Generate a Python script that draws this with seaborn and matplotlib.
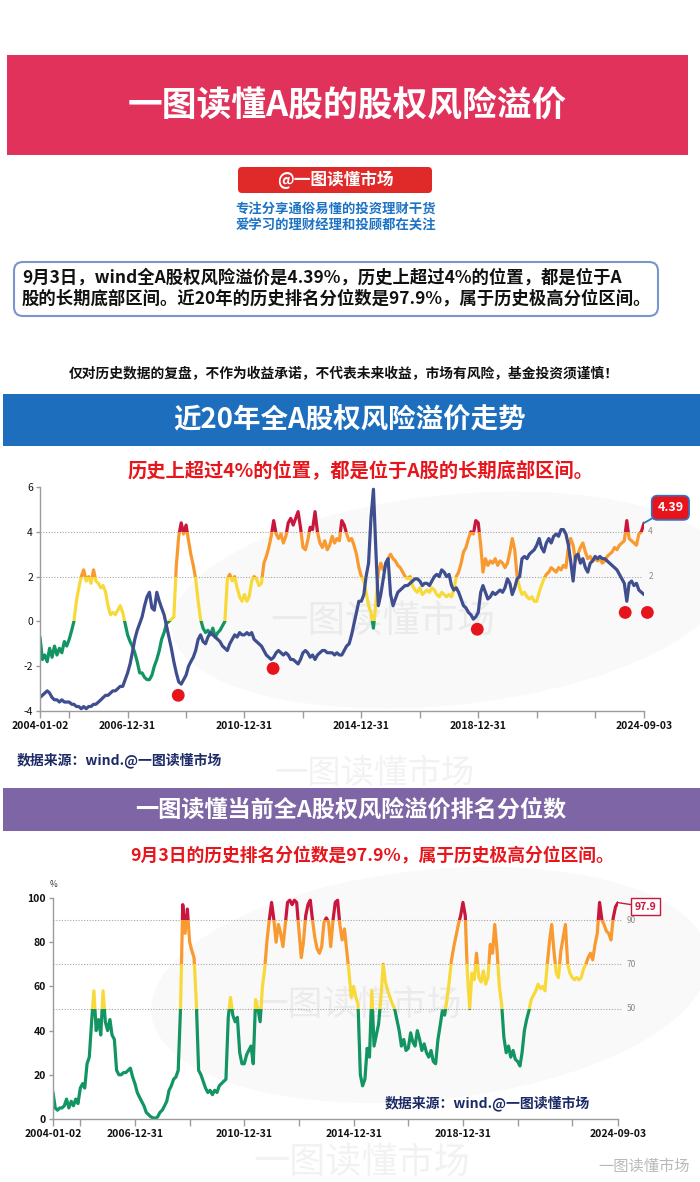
import pandas as pd
import seaborn as sns
import matplotlib.pyplot as plt
import matplotlib.dates as mdates
from matplotlib.patches import Rectangle, FancyBboxPatch, Ellipse
from matplotlib.transforms import blended_transform_factory

sns.set_theme(style='white')
plt.rcParams['font.family'] = ['Noto Sans CJK SC', 'DejaVu Sans']
plt.rcParams['axes.unicode_minus'] = False

# ---------------- data (monthly readings, 2004-01-02 .. 2024-09-03) ----------------
dates = ([pd.Timestamp('2004-01-02')]
         + list(pd.date_range('2004-02-01', '2024-08-01', freq='MS'))
         + [pd.Timestamp('2024-09-03')])

erp = [
    -0.7, -1.7, -1.5, -1.8, -1.2, -1.6, -1.1, -1.5, -1.2, -1.4, -0.9, -1.1,   # 2004
    -0.8, -0.4, 0.0, 0.9, 1.5, 2.0, 2.3, 1.8, 2.0, 1.7, 2.3, 1.8,             # 2005
    1.7, 1.5, 1.6, 1.3, 0.7, 0.3, 0.4, 0.3, 0.5, 0.7, 0.4, -0.1,              # 2006
    -0.6, -0.9, -1.1, -1.4, -1.8, -2.3, -2.3, -2.5, -2.6, -2.6, -2.4, -2.0,   # 2007
    -1.7, -1.3, -0.8, -0.5, -0.1, 0.0, 0.1, 0.2, 2.5, 3.8, 4.4, 3.9,          # 2008
    4.3, 3.6, 3.0, 2.5, 1.9, 0.9, 0.1, -0.3, -0.5, -0.4, -0.6, -0.3,          # 2009
    -0.7, -0.5, -0.4, -0.2, 0.0, 1.9, 2.1, 1.8, 2.0, 1.5, 1.1, 0.9,           # 2010
    1.2, 0.9, 1.1, 1.8, 2.0, 1.9, 1.6, 1.7, 2.6, 2.9, 3.3, 3.8,               # 2011
    4.5, 3.9, 3.7, 3.9, 3.5, 3.8, 4.4, 4.6, 4.3, 4.6, 4.9, 4.2,               # 2012
    3.3, 3.2, 3.6, 4.2, 4.1, 4.9, 4.0, 3.5, 3.3, 3.6, 3.2, 3.4,               # 2013
    3.8, 3.5, 3.7, 3.6, 4.5, 4.3, 3.9, 3.6, 3.7, 3.4, 3.0, 2.4,               # 2014
    2.0, 1.8, 1.3, 0.7, 0.4, -0.3, 0.8, 2.2, 2.6, 2.3, 2.5, 2.8,              # 2015
    3.0, 2.8, 2.7, 2.5, 2.4, 2.2, 2.0, 1.9, 2.0, 1.6, 1.4, 1.3,               # 2016
    1.5, 1.2, 1.3, 1.4, 1.3, 1.5, 1.4, 1.2, 1.1, 1.3, 1.2, 1.1,               # 2017
    1.2, 1.1, 1.4, 2.0, 2.2, 2.6, 3.1, 3.3, 3.7, 4.0, 3.9, 4.5,               # 2018
    4.4, 3.4, 2.2, 2.8, 2.5, 2.7, 2.6, 2.8, 2.5, 2.7, 2.6, 2.4,               # 2019
    2.6, 3.1, 3.7, 3.2, 2.0, 1.5, 1.2, 1.3, 1.1, 1.0, 1.1, 0.9,               # 2020
    0.9, 1.3, 1.6, 1.9, 2.1, 2.2, 2.4, 2.3, 2.2, 2.4, 2.3, 2.5,               # 2021
    2.4, 3.3, 3.7, 3.4, 2.7, 3.0, 3.3, 3.5, 3.1, 2.8, 2.9, 2.7,               # 2022
    2.8, 2.7, 2.8, 2.6, 2.7, 2.9, 3.0, 3.1, 3.3, 3.2, 3.4, 3.5,               # 2023
    3.6, 4.5, 3.7, 3.6, 3.5, 3.4, 3.9, 4.0, 4.39,                             # 2024
]

index_line = [
    -3.4, -3.3, -3.2, -3.1, -3.2, -3.4, -3.5, -3.5, -3.6, -3.5, -3.6, -3.6,   # 2004
    -3.6, -3.7, -3.7, -3.8, -3.8, -3.9, -3.8, -3.9, -3.8, -3.8, -3.7, -3.7,   # 2005
    -3.6, -3.5, -3.4, -3.3, -3.3, -3.2, -3.1, -3.1, -3.0, -2.9, -2.9, -2.6,   # 2006
    -2.3, -1.9, -1.4, -0.8, -0.4, -0.1, 0.2, 0.7, 1.1, 1.3, 0.6, 0.5,         # 2007
    1.3, 0.9, 0.6, 0.3, -0.2, -0.7, -1.2, -1.8, -2.3, -2.7, -2.8, -2.6,       # 2008
    -2.4, -2.0, -1.8, -1.6, -1.3, -0.8, -0.6, -0.9, -1.0, -0.7, -0.5, -0.6,   # 2009
    -0.7, -0.8, -0.9, -1.1, -1.2, -1.3, -1.0, -0.8, -0.6, -0.7, -0.5, -0.6,   # 2010
    -0.6, -0.5, -0.6, -0.5, -0.8, -0.9, -1.0, -1.1, -1.3, -1.5, -1.6, -1.7,   # 2011
    -1.6, -1.4, -1.3, -1.4, -1.5, -1.4, -1.5, -1.7, -1.7, -1.8, -1.9, -1.7,   # 2012
    -1.4, -1.3, -1.4, -1.6, -1.5, -1.7, -1.5, -1.4, -1.3, -1.3, -1.4, -1.4,   # 2013
    -1.4, -1.5, -1.4, -1.5, -1.5, -1.3, -1.1, -1.0, -0.6, -0.1, 0.4, 0.9,     # 2014
    0.9, 1.2, 2.0, 2.6, 4.6, 5.9, 3.2, 0.7, 1.2, 1.9, 2.6, 2.8,               # 2015
    1.2, 0.7, 1.0, 1.3, 1.4, 1.5, 1.6, 1.6, 1.7, 1.8, 1.9, 1.9,               # 2016
    1.8, 1.6, 1.7, 1.7, 1.6, 1.8, 2.0, 2.1, 2.0, 2.3, 2.2, 2.0,               # 2017
    2.1, 1.6, 1.4, 1.5, 1.3, 1.0, 0.7, 0.6, 0.4, 0.3, 0.1, 0.2,               # 2018
    0.4, 1.3, 1.6, 1.3, 1.0, 1.1, 1.3, 1.2, 1.3, 1.4, 1.3, 1.5,               # 2019
    1.9, 1.7, 1.2, 1.5, 1.9, 2.0, 2.8, 2.9, 2.8, 3.0, 3.1, 3.2,               # 2020
    3.4, 3.7, 3.3, 3.1, 3.5, 3.7, 3.5, 3.8, 3.9, 3.8, 4.1, 4.1,               # 2021
    3.9, 3.4, 2.7, 1.8, 2.9, 3.0, 2.6, 2.8, 2.4, 2.2, 2.6, 2.7,               # 2022
    2.9, 2.8, 2.9, 2.8, 2.8, 2.7, 2.6, 2.5, 2.4, 2.3, 2.1, 1.9,               # 2023
    1.7, 0.9, 1.7, 1.8, 1.6, 1.7, 1.4, 1.3, 1.2,                              # 2024
]

pct = [
    12, 5, 4, 5, 5, 6, 9, 5, 8, 6, 9, 7,                # 2004
    14, 16, 14, 25, 28, 44, 58, 40, 45, 38, 58, 44,     # 2005
    40, 45, 38, 36, 22, 20, 20, 21, 21, 22, 23, 19,     # 2006
    16, 12, 10, 8, 6, 3, 2, 1, 0.5, 0.3, 1, 3,          # 2007
    4, 6, 8, 13, 15, 18, 19, 22, 50, 97, 84, 95,        # 2008
    80, 76, 73, 52, 22, 20, 17, 14, 12, 13, 11, 13,     # 2009
    12, 15, 16, 17, 18, 46, 55, 47, 44, 46, 30, 25,     # 2010
    25, 29, 31, 33, 25, 54, 50, 44, 60, 68, 81, 90,     # 2011
    98, 90, 80, 88, 84, 78, 88, 98, 99, 97, 99, 98,     # 2012
    85, 73, 80, 92, 97, 99, 90, 82, 77, 75, 78, 89,     # 2013
    91, 89, 78, 90, 98, 99, 88, 81, 86, 76, 66, 55,     # 2014
    60, 55, 52, 20, 15, 18, 32, 28, 58, 33, 38, 43,     # 2015
    55, 70, 62, 58, 55, 52, 50, 45, 40, 33, 36, 31,     # 2016
    32, 39, 35, 33, 40, 36, 31, 34, 30, 28, 31, 26,     # 2017
    25, 36, 42, 49, 47, 54, 62, 72, 78, 83, 88, 92,     # 2018
    98, 92, 66, 50, 66, 63, 75, 64, 62, 67, 61, 64,     # 2019
    79, 75, 88, 76, 60, 52, 37, 30, 33, 28, 31, 27,     # 2020
    26, 24, 30, 40, 45, 49, 54, 56, 58, 61, 59, 60,     # 2021
    58, 70, 80, 88, 76, 66, 64, 76, 82, 88, 70, 66,     # 2022
    64, 63, 64, 63, 64, 68, 70, 73, 75, 72, 79, 84,     # 2023
    98, 90, 88, 85, 84, 81, 91, 96, 97.9,               # 2024
]

bottom_dates = ['2008-09-25', '2011-12-25', '2018-12-20', '2024-01-12', '2024-10-15']
bottom_vals = [-3.3, -2.1, -0.35, 0.4, 0.4]

tick_dates = ['2004-01-02', '2004-12-31', '2006-12-31', '2008-12-31', '2010-12-31',
              '2012-12-31', '2014-12-31', '2016-12-31', '2018-12-31', '2020-12-31',
              '2022-12-31', '2024-09-03']
tick_labels = ['2004-01-02', '', '2006-12-31', '', '2010-12-31', '', '2014-12-31',
               '', '2018-12-31', '', '', '2024-09-03']

GREEN, YELLOW, ORANGE, CRIMSON = '#129463', '#f8d93a', '#f89a30', '#c9163c'
NAVY = '#3e4e8e'
GRID = '#a5a5a5'
SPINE = '#9c9c9c'

df = pd.DataFrame({'date': dates, 'erp': erp, 'index': index_line, 'pct': pct})


def banded_line(ax, col, bands, lw=2.3):
    blend = blended_transform_factory(ax.transAxes, ax.transData)
    for lo, hi, c in bands:
        sns.lineplot(data=df, x='date', y=col, ax=ax, color=c, linewidth=lw, sort=False)
        ln = ax.lines[-1]
        ln.set_clip_path(Rectangle((0, lo), 1, hi - lo, transform=blend))


def style_axes(ax, ylim, yticks):
    ax.patch.set_alpha(0)
    ax.set_xlim(mdates.date2num(dates[0]), mdates.date2num(dates[-1]))
    ax.set_ylim(*ylim)
    ax.set_xticks(mdates.date2num(pd.to_datetime(tick_dates)))
    ax.set_xticklabels(tick_labels)
    ax.set_yticks(yticks)
    ax.set_yticklabels([str(v) for v in yticks])
    for s in ['top', 'right']:
        ax.spines[s].set_visible(False)
    for s in ['left', 'bottom']:
        ax.spines[s].set_color(SPINE)
        ax.spines[s].set_linewidth(1)
    ax.tick_params(axis='x', bottom=True, direction='out', length=5, width=1,
                   color=SPINE, pad=2, labelsize=7.5, labelcolor='#111111')
    ax.tick_params(axis='y', left=True, direction='out', length=3, width=1,
                   color=SPINE, pad=2, labelsize=7.5, labelcolor='#111111')
    for lbl in ax.get_xticklabels():
        lbl.set_fontweight('bold')
    ax.set_xlabel('')
    ax.set_ylabel('')


fig = plt.figure(figsize=(7, 11.82), dpi=100)
W, H = 700, 1182

# background canvas in pixel coordinates
bg = fig.add_axes([0, 0, 1, 1])
bg.set_xlim(0, W)
bg.set_ylim(H, 0)
bg.axis('off')

bg.add_patch(Ellipse((450, 600), 560, 210, angle=-6, fc='#f9f9f9', ec='none'))
bg.add_patch(Ellipse((430, 985), 560, 230, angle=-6, fc='#f9f9f9', ec='none'))

bg.add_patch(Rectangle((7, 55), 681, 100, fc='#e1325b', ec='none'))
bg.text(347, 106, '一图读懂A股的股权风险溢价', color='white', fontsize=25,
        fontweight='bold', ha='center', va='center')
bg.add_patch(FancyBboxPatch((238, 167), 194, 26, boxstyle='round,pad=0,rounding_size=4',
                            fc='#e02a2a', ec='none'))
bg.text(335, 180, '@一图读懂市场', color='white', fontsize=12, fontweight='bold',
        ha='center', va='center')
bg.text(336, 209, '专注分享通俗易懂的投资理财干货', color='#1c72c4', fontsize=9.6,
        fontweight='bold', ha='center', va='center')
bg.text(336, 226, '爱学习的理财经理和投顾都在关注', color='#1c72c4', fontsize=9.6,
        fontweight='bold', ha='center', va='center')

bg.add_patch(FancyBboxPatch((14, 262), 644, 54, boxstyle='round,pad=0,rounding_size=9',
                            fc='white', ec='#7b96cc', lw=1.5))
bg.text(22, 278, '9月3日，wind全A股权风险溢价是4.39%，历史上超过4%的位置，都是位于A',
        fontsize=12.5, fontweight='bold', color='#111111', ha='left', va='center')
bg.text(22, 299, '股的长期底部区间。近20年的历史排名分位数是97.9%，属于历史极高分位区间。',
        fontsize=12.5, fontweight='bold', color='#111111', ha='left', va='center')

bg.text(344, 374, '仅对历史数据的复盘，不作为收益承诺，不代表未来收益，市场有风险，基金投资须谨慎！',
        fontsize=9.9, fontweight='bold', color='#111111', ha='center', va='center')

bg.add_patch(Rectangle((3, 394), 697, 52, fc='#1e6ebe', ec='none'))
bg.text(350, 420, '近20年全A股权风险溢价走势', color='white', fontsize=19.8,
        fontweight='bold', ha='center', va='center')
bg.text(360, 470, '历史上超过4%的位置，都是位于A股的长期底部区间。', color='#e6161c',
        fontsize=13.9, fontweight='bold', ha='center', va='center')

bg.text(383, 622, '一图读懂市场', color='#ebebeb', fontsize=27, ha='center', va='center')
bg.text(375, 774, '一图读懂市场', color='#f2f2f2', fontsize=24, ha='center', va='center')
bg.text(17, 760, '数据来源：wind.@一图读懂市场', color='#1c2b66', fontsize=10,
        fontweight='bold', ha='left', va='center')

bg.add_patch(Rectangle((3, 788), 697, 43, fc='#7d65a6', ec='none'))
bg.text(351, 810, '一图读懂当前全A股权风险溢价排名分位数', color='white', fontsize=16.7,
        fontweight='bold', ha='center', va='center')
bg.text(372, 855, '9月3日的历史排名分位数是97.9%，属于历史极高分位区间。', color='#e6161c',
        fontsize=12.8, fontweight='bold', ha='center', va='center')

bg.text(358, 1005, '一图读懂市场', color='#ebebeb', fontsize=25, ha='center', va='center')
bg.text(362, 1163, '一图读懂市场', color='#f2f2f2', fontsize=26, ha='center', va='center')
bg.text(385, 1103, '数据来源：wind.@一图读懂市场', color='#1c2b66', fontsize=10,
        fontweight='bold', ha='left', va='center')
bg.text(690, 1166, '一图读懂市场', color='#b9b9b9', fontsize=11, ha='right', va='center')

# ---------------- chart 1: equity risk premium ----------------
ax1 = fig.add_axes([40 / W, 1 - 711 / H, 604 / W, 224 / H])
ax1.set_zorder(2)
for g in [4, 2]:
    ax1.axhline(g, xmin=0, xmax=0.995, color=GRID, lw=0.8, ls=(0, (1, 1.5)), zorder=0)
banded_line(ax1, 'erp', [(-100, 0, GREEN), (0, 2, YELLOW), (2, 4, ORANGE), (4, 100, CRIMSON)])
sns.lineplot(data=df, x='date', y='index', ax=ax1, color=NAVY, linewidth=2.3, sort=False)
sns.scatterplot(x=pd.to_datetime(bottom_dates), y=bottom_vals, ax=ax1, s=85,
                color='#e8141c', edgecolor='none', zorder=5, clip_on=False)
style_axes(ax1, (-4, 6), [-4, -2, 0, 2, 4, 6])
blend1 = blended_transform_factory(ax1.transAxes, ax1.transData)
for g in [4, 2]:
    ax1.text(1.007, g, str(g), transform=blend1, fontsize=6, color='#888888',
             ha='left', va='center')
ax1.annotate('4.39', xy=(mdates.date2num(dates[-1]), 4.39), xytext=(19, 11),
             textcoords='offset points', ha='center', va='center', color='white',
             fontsize=9, fontweight='bold', annotation_clip=False, zorder=6,
             bbox=dict(boxstyle='round,pad=0.45', fc='#e8141c', ec='#2f74c0', lw=1.2),
             arrowprops=dict(arrowstyle='-', color='#2f74c0', lw=1.3, shrinkA=0, shrinkB=0))

# ---------------- chart 2: percentile ----------------
ax2 = fig.add_axes([53 / W, 1 - 1119 / H, 565 / W, 221 / H])
ax2.set_zorder(2)
for g in [90, 70, 50]:
    ax2.axhline(g, xmin=0, xmax=1.007, color=GRID, lw=0.8, ls=(0, (1, 1.5)),
                zorder=0, clip_on=False)
banded_line(ax2, 'pct', [(-100, 50, GREEN), (50, 70, YELLOW), (70, 90, ORANGE), (90, 200, CRIMSON)])
style_axes(ax2, (0, 100), [0, 20, 40, 60, 80, 100])
for lbl in ax2.get_yticklabels():
    lbl.set_fontweight('bold')
blend2 = blended_transform_factory(ax2.transAxes, ax2.transData)
for g in [90, 70, 50]:
    ax2.text(1.015, g, str(g), transform=blend2, fontsize=6, color='#888888',
             ha='left', va='center')
ax2.text(0, 1.063, '%', transform=ax2.transAxes, fontsize=6, color='#333333',
         ha='center', va='center')
ax2.annotate('97.9', xy=(mdates.date2num(dates[-1]), 97.9), xytext=(20, -3),
             textcoords='offset points', ha='center', va='center', color=CRIMSON,
             fontsize=7.5, fontweight='bold', annotation_clip=False, zorder=6,
             bbox=dict(boxstyle='square,pad=0.35', fc='white', ec=CRIMSON, lw=1),
             arrowprops=dict(arrowstyle='-', color=CRIMSON, lw=1, shrinkA=0, shrinkB=0))

fig.savefig('out.png', dpi=100)
